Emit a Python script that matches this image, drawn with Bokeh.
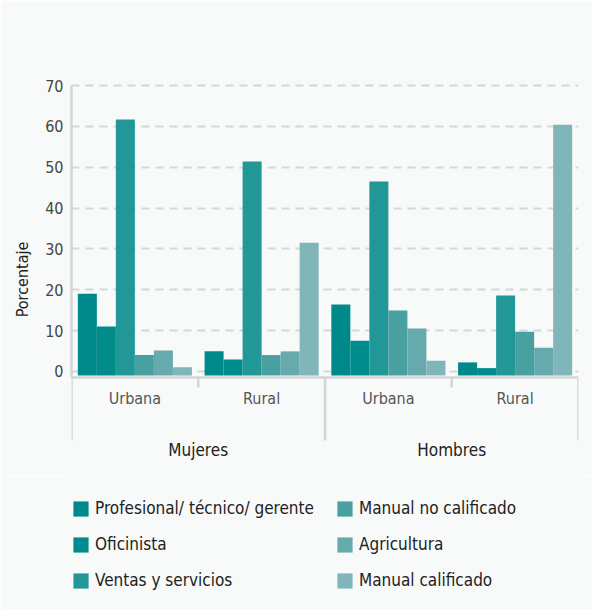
from bokeh.plotting import figure
from bokeh.layouts import column
from bokeh.models import (FactorRange, ColumnDataSource, FixedTicker, CategoricalAxis,
                          Legend, LegendItem, Range1d)
from bokeh.transform import dodge
from bokeh.embed import file_html
from bokeh.resources import INLINE

# ---- data ----
genders = ["Mujeres", "Hombres"]
areas = ["Urbana", "Rural"]
series = ["Profesional/ técnico/ gerente", "Oficinista", "Ventas y servicios",
          "Manual no calificado", "Agricultura", "Manual calificado"]
prof = [19.0, 4.9, 16.4, 2.2]
ofic = [11.0, 2.9, 7.5, 0.8]
ventas = [61.7, 51.4, 46.5, 18.6]
manual_nc = [4.0, 4.0, 14.9, 9.7]
agric = [5.1, 4.9, 10.5, 5.8]
manual_c = [1.0, 31.5, 2.6, 60.4]
y_ticks = [0, 10, 20, 30, 40, 50, 60, 70]

colors = ["#00898A", "#008C8B", "#229797", "#48A0A1", "#66AAAE", "#80B5B9"]
values = [prof, ofic, ventas, manual_nc, agric, manual_c]

factors = [(g, a) for g in genders for a in areas]
data = {"cat": factors}
keys = ["s%d" % i for i in range(len(series))]
for k, v in zip(keys, values):
    data[k] = v
source = ColumnDataSource(data)

BG = "#F8F9F9"
FONT = "DejaVu Sans Condensed"
LINE = "#D3D5D6"
base = -1.0
axis_y = -1.5
ppu = 4.0833  # px per unit
y_end = 70.5
top_px = 83
H1 = 475
frame_h = H1 - top_px
y_start = y_end - frame_h / ppu

x_range = FactorRange(factors=factors, range_padding=0, group_padding=0, factor_padding=0)

p = figure(width=592, height=H1, x_range=x_range, y_range=(y_start, y_end),
           output_backend="svg", toolbar_location=None,
           min_border_left=71, min_border_right=14, min_border_top=top_px,
           min_border_bottom=0)
p.background_fill_color = BG
p.border_fill_color = BG
p.outline_line_color = None

n = len(series)
w = 0.15
renderers = []
for i, k in enumerate(keys):
    off = (i - (n - 1) / 2) * w
    r = p.vbar(x=dodge("cat", off, range=p.x_range), top=k, bottom=base, width=w,
               source=source, fill_color=colors[i], line_color=None)
    renderers.append(r)

# group separators
nb = len(factors) + 1
long_x = [i for i in range(nb) if i % 2 == 0]
short_x = [i for i in range(nb) if i % 2 == 1]
p.segment(x0=long_x, x1=long_x, y0=[axis_y] * len(long_x),
          y1=[axis_y - 63 / ppu] * len(long_x), line_color=LINE, line_width=2.5)
p.segment(x0=short_x, x1=short_x, y0=[axis_y] * len(short_x),
          y1=[axis_y - 10 / ppu] * len(short_x), line_color=LINE, line_width=2.5)

# y axis
p.yaxis.ticker = FixedTicker(ticks=y_ticks)
p.yaxis.bounds = (axis_y, 70)
p.yaxis.axis_line_color = LINE
p.yaxis.axis_line_width = 2.5
p.yaxis.major_tick_line_color = None
p.yaxis.minor_tick_line_color = None
p.yaxis.major_tick_out = 0
p.yaxis.major_label_standoff = 8
p.yaxis.major_label_text_font = FONT
p.yaxis.major_label_text_font_size = "16px"
p.yaxis.major_label_text_color = "#444444"
p.yaxis.axis_label = "Porcentaje"
p.yaxis.axis_label_text_font = FONT
p.yaxis.axis_label_text_font_size = "16px"
p.yaxis.axis_label_text_font_style = "normal"
p.yaxis.axis_label_text_color = "#222222"
p.yaxis.axis_label_standoff = 10

p.ygrid.ticker = FixedTicker(ticks=y_ticks)
p.ygrid.grid_line_color = "#D6D8D8"
p.ygrid.grid_line_width = 2
p.ygrid.grid_line_dash = "8 6"
p.xgrid.visible = False

# x axis (areas)
xa = p.xaxis[0]
xa.fixed_location = axis_y
xa.axis_line_color = LINE
xa.axis_line_width = 2.5
xa.major_tick_line_color = None
xa.minor_tick_line_color = None
xa.major_tick_out = 0
xa.major_label_standoff = 12
xa.major_label_text_font = FONT
xa.major_label_text_font_size = "16px"
xa.major_label_text_color = "#555555"
xa.group_text_color = None
xa.separator_line_color = None

# gender axis
p.extra_x_ranges = {"gender": FactorRange(factors=genders)}
ga = CategoricalAxis(x_range_name="gender", fixed_location=axis_y)
ga.axis_line_color = None
ga.major_tick_line_color = None
ga.minor_tick_line_color = None
ga.major_tick_out = 0
ga.major_label_standoff = 63
ga.major_label_text_font = FONT
ga.major_label_text_font_size = "17px"
ga.major_label_text_color = "#222222"
p.add_layout(ga, "below")

# legend figure
H2 = 609 - H1
p2 = figure(width=592, height=H2, x_range=Range1d(0, 1), y_range=Range1d(0, 1),
            output_backend="svg", toolbar_location=None,
            x_axis_location=None, y_axis_location=None,
            min_border_left=0, min_border_right=0, min_border_top=0, min_border_bottom=0)
p2.background_fill_color = BG
p2.border_fill_color = BG
p2.outline_line_color = None
p2.grid.visible = False
leg_r = [p2.vbar(x=[0], top=[0], bottom=[0], width=0, fill_color=c, line_color=None)
         for c in colors]


def make_legend(idx, loc):
    items = [LegendItem(label=series[i], renderers=[leg_r[i]]) for i in idx]
    lg = Legend(items=items, location=loc, orientation="vertical")
    lg.glyph_width = 19
    lg.glyph_height = 19
    lg.label_height = 20
    lg.label_standoff = 5
    lg.spacing = 16
    lg.padding = 0
    lg.margin = 0
    lg.border_line_color = None
    lg.background_fill_alpha = 0
    lg.label_text_font = FONT
    lg.label_text_font_size = "17px"
    lg.label_text_color = "#222222"
    return lg


p2.add_layout(make_legend([0, 1, 2], (0, 19)), "center")
p2.add_layout(make_legend([3, 4, 5], (264, 19)), "center")

layout = column(p, p2, spacing=0)
open("out.html", "w").write(file_html(layout, INLINE))
